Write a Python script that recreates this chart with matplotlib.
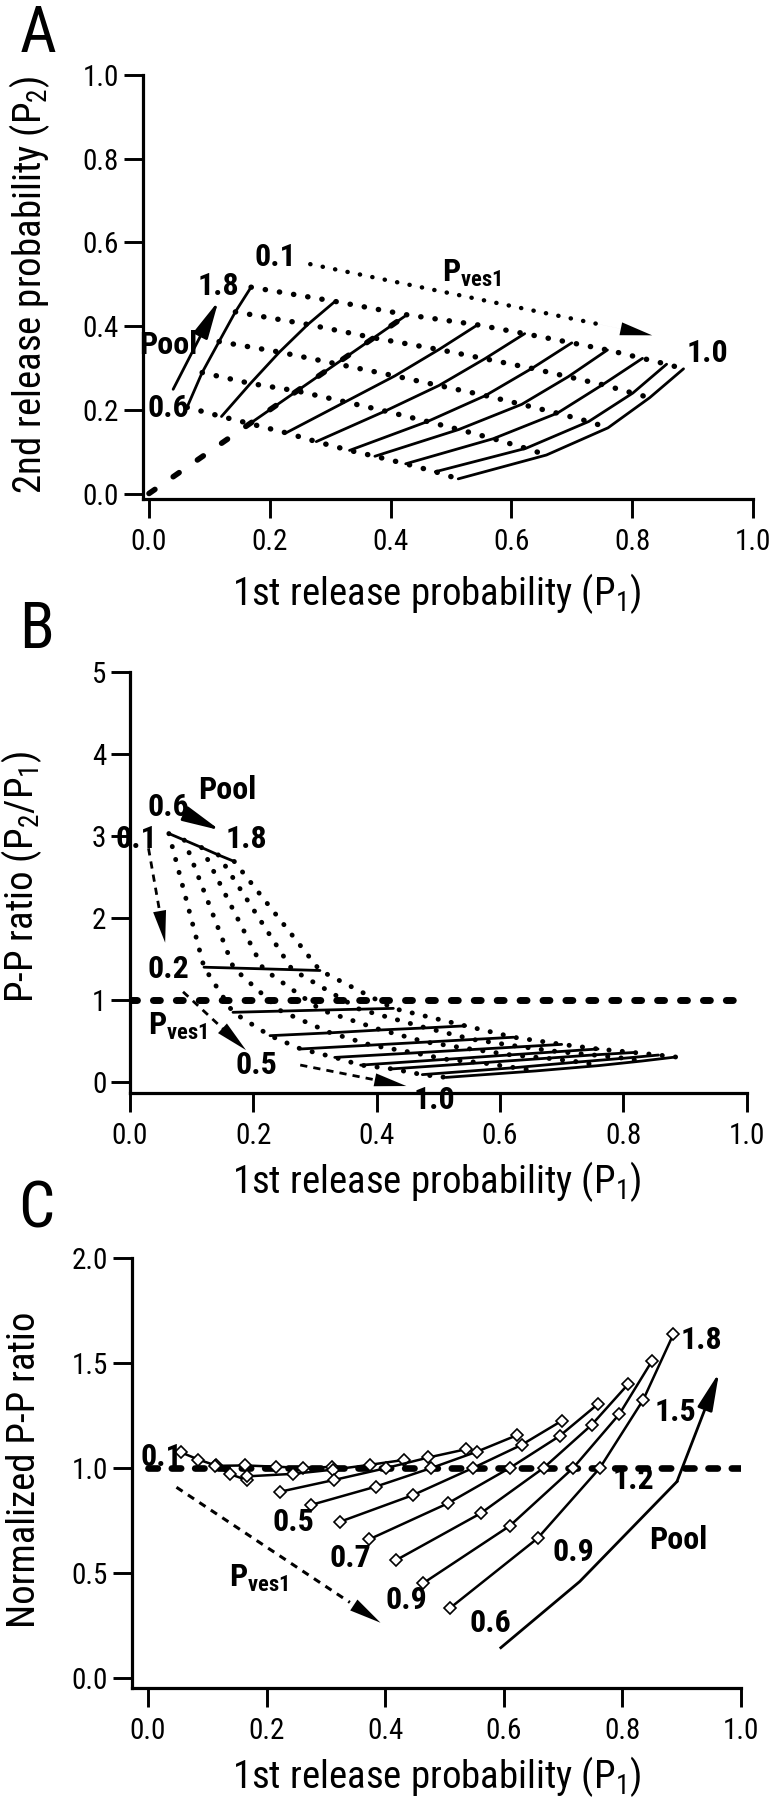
import matplotlib
matplotlib.use('Agg')
import matplotlib.pyplot as plt
from matplotlib import font_manager

# pick a condensed sans family that has static regular and bold faces
_pref = ['Roboto Condensed', 'IBM Plex Sans Condensed', 'Fira Sans Condensed',
         'PT Sans Narrow', 'Open Sans Condensed', 'Encode Sans Semi Condensed',
         'Barlow Semi Condensed', 'Asap Condensed']
_w = {}
for f in font_manager.fontManager.ttflist:
    if f.style == 'normal':
        _w.setdefault(f.name, set()).add(int(f.weight) if str(f.weight).isdigit() else f.weight)
FAM = None
for name in _pref:
    ws = _w.get(name, set())
    if 400 in ws and 700 in ws:
        FAM = name
        break
NARROW = FAM is not None
if not NARROW:
    FAM = 'Liberation Sans'

plt.rcParams['font.family'] = [FAM, 'DejaVu Sans']
plt.rcParams['mathtext.fontset'] = 'custom'
plt.rcParams['mathtext.rm'] = FAM
plt.rcParams['mathtext.it'] = FAM + ':italic'
plt.rcParams['mathtext.bf'] = FAM + ':bold'

# ---------------- data ----------------
pves1 = [0.1, 0.2, 0.3, 0.4, 0.5, 0.6, 0.7, 0.8, 0.9, 1.0]
pool = [0.6, 0.9, 1.2, 1.5, 1.8]

# Panel A: P1 and P2 for each Pves1 (rows) and pool size (columns)
a_p1 = [
    [0.063, 0.088, 0.116, 0.143, 0.169],
    [0.120, 0.168, 0.216, 0.263, 0.308],
    [0.167, 0.245, 0.310, 0.372, 0.427],
    [0.227, 0.325, 0.407, 0.480, 0.544],
    [0.277, 0.391, 0.480, 0.556, 0.622],
    [0.332, 0.461, 0.557, 0.634, 0.700],
    [0.374, 0.513, 0.617, 0.694, 0.759],
    [0.425, 0.570, 0.676, 0.751, 0.817],
    [0.474, 0.624, 0.728, 0.801, 0.857],
    [0.512, 0.658, 0.760, 0.829, 0.885],
]
a_p2 = [
    [0.206, 0.289, 0.363, 0.434, 0.493],
    [0.184, 0.263, 0.338, 0.404, 0.459],
    [0.167, 0.245, 0.310, 0.372, 0.427],
    [0.145, 0.219, 0.281, 0.344, 0.403],
    [0.124, 0.197, 0.258, 0.322, 0.382],
    [0.103, 0.172, 0.234, 0.299, 0.360],
    [0.089, 0.153, 0.213, 0.279, 0.343],
    [0.071, 0.131, 0.192, 0.260, 0.323],
    [0.052, 0.108, 0.172, 0.240, 0.309],
    [0.035, 0.092, 0.157, 0.229, 0.298],
]
a_unity = [0.0, 0.43]

# Panel B: P-P ratio (x values are the P1 values of panel A)
b_ratio = [
    [3.03, 2.95, 2.86, 2.77, 2.69],
    [1.40, 1.39, 1.38, 1.37, 1.36],
    [0.850, 0.865, 0.877, 0.888, 0.898],
    [0.565, 0.600, 0.635, 0.660, 0.685],
    [0.403, 0.450, 0.487, 0.519, 0.546],
    [0.300, 0.355, 0.397, 0.430, 0.459],
    [0.206, 0.277, 0.331, 0.370, 0.403],
    [0.160, 0.235, 0.290, 0.330, 0.360],
    [0.090, 0.175, 0.245, 0.290, 0.329],
    [0.056, 0.135, 0.200, 0.255, 0.305],
]

# Panel C: normalized P-P ratio
c_p1 = [
    [0.055, 0.085, 0.114, 0.139, 0.167],
    [0.113, 0.164, 0.216, 0.262, 0.310],
    [0.167, 0.245, 0.312, 0.374, 0.431],
    [0.223, 0.314, 0.401, 0.473, 0.536],
    [0.275, 0.384, 0.478, 0.555, 0.623],
    [0.324, 0.447, 0.548, 0.630, 0.698],
    [0.373, 0.506, 0.610, 0.694, 0.759],
    [0.419, 0.561, 0.667, 0.748, 0.810],
    [0.464, 0.610, 0.717, 0.795, 0.850],
    [0.509, 0.657, 0.762, 0.835, 0.886],
]
c_norm = [
    [1.075, 1.040, 1.012, 0.970, 0.942],
    [1.010, 1.012, 1.006, 1.000, 1.005],
    [0.960, 0.972, 0.992, 1.015, 1.038],
    [0.887, 0.943, 0.999, 1.050, 1.089],
    [0.824, 0.911, 1.000, 1.078, 1.157],
    [0.744, 0.871, 1.000, 1.110, 1.225],
    [0.660, 0.832, 1.000, 1.152, 1.305],
    [0.562, 0.784, 1.000, 1.205, 1.400],
    [0.451, 0.724, 1.000, 1.257, 1.510],
    [0.332, 0.665, 1.000, 1.324, 1.637],
]
c_pool_x = [0.595, 0.728, 0.892, 0.963]
c_pool_y = [0.144, 0.459, 0.935, 1.454]

a_xticks = [0.0, 0.2, 0.4, 0.6, 0.8, 1.0]
a_yticks = [0.0, 0.2, 0.4, 0.6, 0.8, 1.0]
b_yticks = [0, 1, 2, 3, 4, 5]
c_yticks = [0.0, 0.5, 1.0, 1.5, 2.0]

# font sizes
if NARROW:
    TICK_FS, LAB_FS, BOLD_FS, LET_FS = 21, 28, 23, 46
else:
    TICK_FS, LAB_FS, BOLD_FS, LET_FS = 19, 26, 21, 46

# ---------------- figure ----------------
W, H = 776, 1800
fig = plt.figure(figsize=(W / 100, H / 100), dpi=100)


def add_axes(left, right, top, bottom):
    return fig.add_axes([left / W, 1 - bottom / H, (right - left) / W, (bottom - top) / H])


def style(ax):
    for s in ['top', 'right']:
        ax.spines[s].set_visible(False)
    for s in ['left', 'bottom']:
        ax.spines[s].set_linewidth(2.3)
        ax.spines[s].set_capstyle('projecting')
    ax.tick_params(direction='out', length=14, width=2.1, labelsize=TICK_FS, color='k')
    ax.tick_params(axis='x', pad=7)
    ax.tick_params(axis='y', pad=3)


DOT = dict(color='k', lw=3.9, linestyle=(0, (0.05, 2.6)), dash_capstyle='round')
BOLD = dict(fontsize=BOLD_FS, fontweight='bold', ha='center', va='center')
HEAD = '-|>,head_length=2.3,head_width=0.47'
SOLID_LW = 2.0


def head(ax, start, tip):
    ax.annotate('', xy=tip, xytext=start,
                arrowprops=dict(arrowstyle=HEAD, color='k', lw=0.01,
                                shrinkA=0, shrinkB=0, mutation_scale=10))


def solid_arrow(ax, start, tip, lw=SOLID_LW):
    ax.annotate('', xy=tip, xytext=start,
                arrowprops=dict(arrowstyle=HEAD, color='k', lw=lw,
                                shrinkA=0, shrinkB=0, mutation_scale=10))


def styled_arrow(ax, start, tip, **kw):
    fx = start[0] + 0.85 * (tip[0] - start[0])
    fy = start[1] + 0.85 * (tip[1] - start[1])
    ax.plot([start[0], fx], [start[1], fy], **kw)
    head(ax, start, tip)


# ---------- Panel A ----------
axA = add_axes(142.7, 753, 75, 499.0)
style(axA)
axA.set_xlim(-0.0104, 1.0)
axA.set_ylim(-0.0131, 1.0)
axA.set_xticks(a_xticks)
axA.set_yticks(a_yticks)
axA.set_xticklabels(['%.1f' % v for v in a_xticks])
axA.set_yticklabels(['%.1f' % v for v in a_yticks])

axA.plot(a_unity, a_unity, color='k', lw=4.0, linestyle=(0, (1.3, 4.0)),
         dash_capstyle='round')
for i in range(len(pves1)):
    axA.plot(a_p1[i], a_p2[i], color='k', lw=SOLID_LW, solid_capstyle='round')
for j in range(len(pool)):
    axA.plot([r[j] for r in a_p1], [r[j] for r in a_p2], **DOT)

styled_arrow(axA, (0.267, 0.548), (0.833, 0.378), color='k', lw=3.2,
             linestyle=(0, (0.05, 2.8)), dash_capstyle='round')
solid_arrow(axA, (0.040, 0.249), (0.115, 0.460))

axA.text(0.21, 0.565, '0.1', **BOLD)
axA.text(0.534, 0.527, r'$\mathbf{P_{ves1}}$', **BOLD)
axA.text(0.115, 0.497, '1.8', **BOLD)
axA.text(0.032, 0.355, 'Pool', **BOLD)
axA.text(0.032, 0.205, '0.6', **BOLD)
axA.text(0.925, 0.335, '1.0', **BOLD)

fig.text(30 / W, 1 - 285 / H, r'2nd release probability (P$_2$)', rotation=90,
         fontsize=LAB_FS, ha='center', va='center')
fig.text(437 / W, 1 - 605 / H, r'1st release probability (P$_1$)',
         fontsize=LAB_FS, ha='center', va='baseline')
fig.text(38 / W, 1 - 34 / H, 'A', fontsize=LET_FS, ha='center', va='center')

# ---------- Panel B ----------
axB = add_axes(130, 746.7, 672, 1093)
style(axB)
axB.set_xlim(0.0, 1.0)
axB.set_ylim(-0.134, 5.0)
axB.set_xticks(a_xticks)
axB.set_yticks(b_yticks)
axB.set_xticklabels(['%.1f' % v for v in a_xticks])
axB.set_yticklabels(['%d' % v for v in b_yticks])

axB.plot([0.0, 1.0], [1.0, 1.0], color='k', lw=5.0, linestyle=(0, (1.0, 2.3)),
         dash_capstyle='round')
for i in range(len(pves1)):
    axB.plot(a_p1[i], b_ratio[i], color='k', lw=SOLID_LW, solid_capstyle='round')
for j in range(len(pool)):
    axB.plot([r[j] for r in a_p1], [r[j] for r in b_ratio], color='k', lw=3.5,
             linestyle=(0, (0.05, 2.7)), dash_capstyle='round')

DASH = dict(color='k', lw=2.0, linestyle=(0, (2.6, 2.2)))
styled_arrow(axB, (0.030, 2.85), (0.057, 1.70), **DASH)
styled_arrow(axB, (0.086, 1.10), (0.188, 0.39), **DASH)
styled_arrow(axB, (0.276, 0.207), (0.448, -0.049), **DASH)
solid_arrow(axB, (0.098, 3.24), (0.146, 3.07))

axB.text(0.158, 3.566, 'Pool', **BOLD)
axB.text(0.062, 3.35, '0.6', **BOLD)
axB.text(0.188, 2.96, '1.8', **BOLD)
axB.text(0.010, 2.96, '0.1', **BOLD)
axB.text(0.062, 1.378, '0.2', **BOLD)
axB.text(0.078, 0.68, r'$\mathbf{P_{ves1}}$', **BOLD)
axB.text(0.205, 0.207, '0.5', **BOLD)
axB.text(0.493, -0.22, '1.0', clip_on=False, **BOLD)

fig.text(22 / W, 1 - 877 / H, r'P-P ratio (P$_2$/P$_1$)', rotation=90,
         fontsize=LAB_FS, ha='center', va='center')
fig.text(437 / W, 1 - 1193 / H, r'1st release probability (P$_1$)',
         fontsize=LAB_FS, ha='center', va='baseline')
fig.text(37 / W, 1 - 630 / H, 'B', fontsize=LET_FS, ha='center', va='center')

# ---------- Panel C ----------
axC = add_axes(131.7, 741, 1258, 1688)
style(axC)
axC.set_xlim(-0.0275, 1.0)
axC.set_ylim(-0.048, 2.0)
axC.set_xticks(a_xticks)
axC.set_yticks(c_yticks)
axC.set_xticklabels(['%.1f' % v for v in a_xticks])
axC.set_yticklabels(['%.1f' % v for v in c_yticks])

axC.plot([0.0, 1.0], [1.0, 1.0], color='k', lw=4.8, linestyle=(0, (1.4, 2.1)),
         dash_capstyle='round')
for i in range(len(pves1)):
    axC.plot(c_p1[i], c_norm[i], color='k', lw=1.8, marker='D', ms=6.5,
             mfc='white', mec='k', mew=1.2)
axC.plot(c_pool_x[:3], c_pool_y[:3], color='k', lw=SOLID_LW)
solid_arrow(axC, (c_pool_x[2], c_pool_y[2]), (c_pool_x[3], c_pool_y[3]))
styled_arrow(axC, (0.048, 0.908), (0.392, 0.263), color='k', lw=2.2,
             linestyle=(0, (2.4, 2.1)))

axC.text(0.023, 1.054, '0.1', **BOLD)
axC.text(0.245, 0.744, '0.5', **BOLD)
axC.text(0.342, 0.570, '0.7', **BOLD)
axC.text(0.435, 0.371, '0.9', **BOLD)
axC.text(0.186, 0.475, r'$\mathbf{P_{ves1}}$', **BOLD)
axC.text(0.934, 1.610, '1.8', **BOLD)
axC.text(0.889, 1.268, '1.5', **BOLD)
axC.text(0.818, 0.943, '1.2', **BOLD)
axC.text(0.894, 0.657, 'Pool', **BOLD)
axC.text(0.717, 0.601, '0.9', **BOLD)
axC.text(0.577, 0.260, '0.6', **BOLD)

fig.text(25 / W, 1 - 1470 / H, 'Normalized P-P ratio', rotation=90,
         fontsize=LAB_FS, ha='center', va='center')
fig.text(437 / W, 1 - 1788 / H, r'1st release probability (P$_1$)',
         fontsize=LAB_FS, ha='center', va='baseline')
fig.text(36 / W, 1 - 1210 / H, 'C', fontsize=LET_FS, ha='center', va='center')

fig.savefig('out.png', dpi=100)
